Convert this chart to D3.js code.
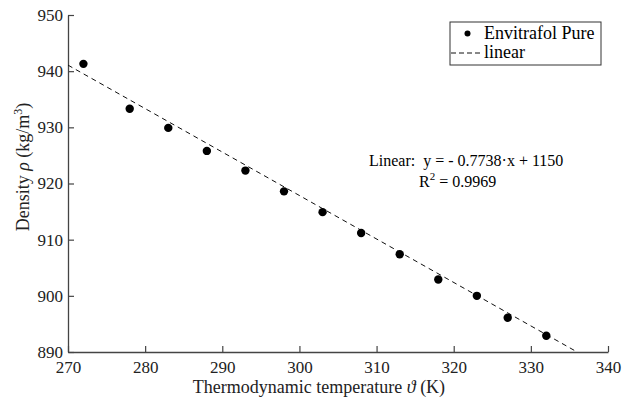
<!DOCTYPE html>
<html>
<head>
<meta charset="utf-8">
<script src="https://cdn.jsdelivr.net/npm/d3@7"></script>
<style>
  body { margin: 0; background: #fff; }
  text { font-family: "Liberation Serif", "DejaVu Serif", serif; }
</style>
</head>
<body>
<div id="chart"></div>
<script>
// Data
var temperature = [272, 278, 283, 288, 293, 298, 303, 308, 313, 318, 323, 327, 332];
var density = [941.3, 933.3, 929.9, 925.8, 922.3, 918.6, 914.9, 911.2, 907.4, 902.9, 900.0, 896.1, 892.9];
var xTicks = [270, 280, 290, 300, 310, 320, 330, 340];
var yTicks = [890, 900, 910, 920, 930, 940, 950];
var slope = -0.7738;
var intercept = 1150;

var svgWidth = 631;
var svgHeight = 405;

var margin = { top: 15, right: 23, bottom: 53, left: 68 };
var width = svgWidth - margin.left - margin.right;
var height = svgHeight - margin.top - margin.bottom;

var svg = d3.select("#chart")
  .append("svg")
  .attr("width", svgWidth)
  .attr("height", svgHeight);

var g = svg.append("g")
  .attr("transform", `translate(${margin.left}, ${margin.top})`);

var x = d3.scaleLinear().domain([270, 340]).range([0, width]);
var y = d3.scaleLinear().domain([890, 950]).range([height, 0]);

// axes, ticks pointing inward
var xAxis = g.append("g")
  .attr("transform", `translate(0, ${height})`)
  .call(d3.axisBottom(x).tickValues(xTicks).tickSize(-6).tickPadding(9).tickSizeOuter(0));
var yAxis = g.append("g")
  .call(d3.axisLeft(y).tickValues(yTicks).tickSize(-6).tickPadding(5).tickSizeOuter(0));

[xAxis, yAxis].forEach(function(a) {
  a.attr("font-family", null);
  a.select(".domain").attr("stroke", "#444").attr("stroke-width", 1.3);
  a.selectAll(".tick line").attr("stroke", "#444").attr("stroke-width", 1.2);
  a.selectAll(".tick text")
    .attr("font-size", "17px")
    .attr("fill", "#222");
});

// fitted line, clipped to the axes box
var xEnd = (890 - intercept) / slope;
g.append("line")
  .attr("x1", x(270))
  .attr("y1", y(slope * 270 + intercept))
  .attr("x2", x(xEnd))
  .attr("y2", y(890))
  .attr("stroke", "#111")
  .attr("stroke-width", 1)
  .attr("stroke-dasharray", "5,4");

// data points
g.selectAll(".pt")
  .data(temperature)
  .enter()
  .append("circle")
  .attr("class", "pt")
  .attr("cx", d => x(d))
  .attr("cy", (d, i) => y(density[i]))
  .attr("r", 4.2)
  .attr("fill", "#000");

// legend
var legend = svg.append("g").attr("transform", "translate(450, 22)");
legend.append("rect")
  .attr("width", 151)
  .attr("height", 43)
  .attr("fill", "#fff")
  .attr("stroke", "#333")
  .attr("stroke-width", 1);
legend.append("circle").attr("cx", 17.5).attr("cy", 11.5).attr("r", 3).attr("fill", "#000");
legend.append("text").attr("x", 34).attr("y", 16.5).attr("font-size", "18px").text("Envitrafol Pure");
legend.append("line")
  .attr("x1", 1).attr("x2", 32).attr("y1", 31).attr("y2", 31)
  .attr("stroke", "#111").attr("stroke-dasharray", "5,3");
legend.append("text").attr("x", 34).attr("y", 36).attr("font-size", "18px").text("linear");

// fit annotation
svg.append("text")
  .attr("x", 369)
  .attr("y", 166)
  .attr("font-size", "16px")
  .attr("xml:space", "preserve")
  .text("Linear:  y = - 0.7738\u00b7x + 1150");
var r2 = svg.append("text")
  .attr("x", 419)
  .attr("y", 187)
  .attr("font-size", "16px");
r2.append("tspan").text("R");
r2.append("tspan").attr("dy", -7).attr("font-size", "11px").text("2");
r2.append("tspan").attr("dy", 7).text(" = 0.9969");

// axis titles
svg.append("text")
  .attr("x", 319)
  .attr("y", 393)
  .attr("text-anchor", "middle")
  .attr("font-size", "18px")
  .attr("fill", "#222")
  .html("Thermodynamic temperature <tspan font-style='italic'>\u03d1</tspan> (K)");

var yt = svg.append("text")
  .attr("transform", "translate(29, 167) rotate(-90)")
  .attr("text-anchor", "middle")
  .attr("font-size", "18px")
  .attr("fill", "#222");
yt.append("tspan").text("Density ");
yt.append("tspan").attr("font-style", "italic").text("\u03c1");
yt.append("tspan").text(" (kg/m");
yt.append("tspan").attr("dy", -7).attr("font-size", "12px").text("3");
yt.append("tspan").attr("dy", 7).text(")");
</script>
</body>
</html>
